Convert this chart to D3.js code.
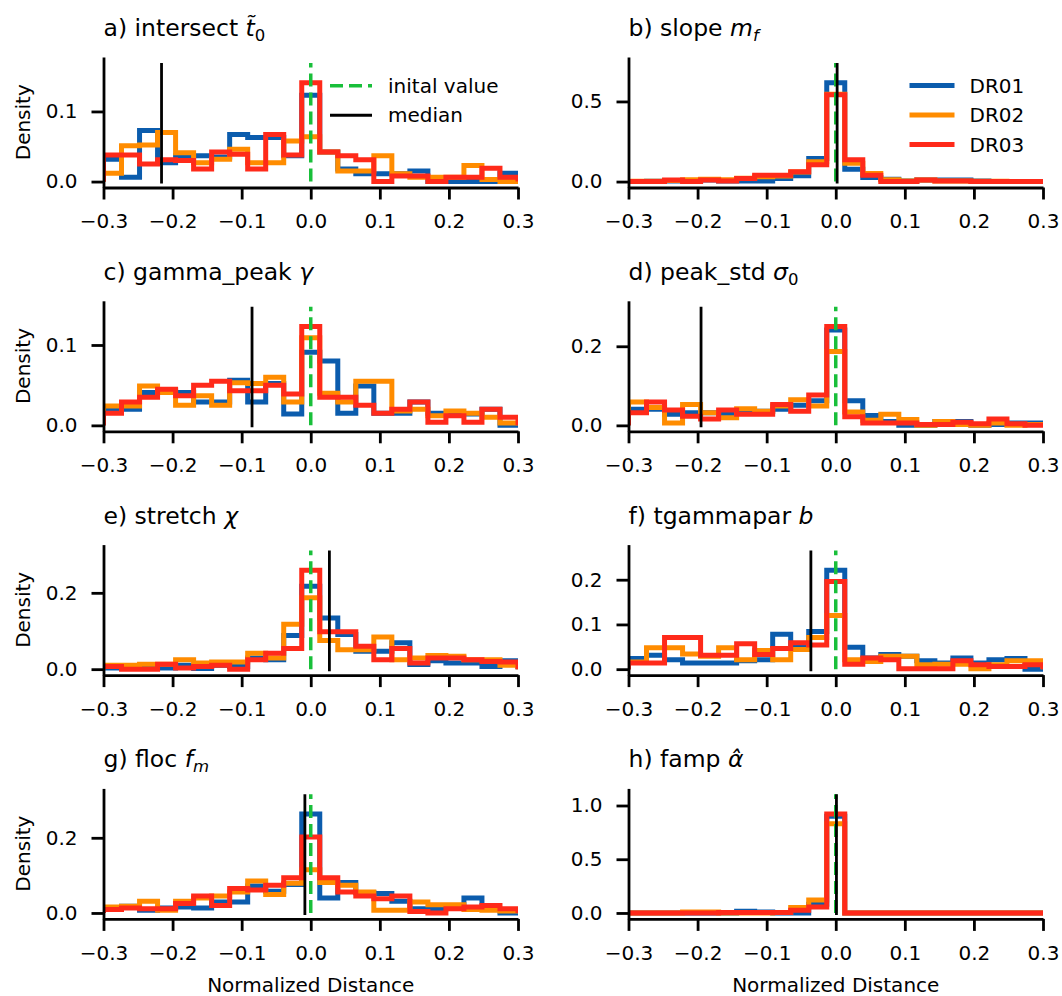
<!DOCTYPE html>
<html>
  <head>
    <meta charset="utf-8" />
    <script src="https://d3js.org/d3.v7.min.js"></script>
    <title>Normalized distance histograms</title>
    <style>
      body { margin: 0; background: #fff; }
      svg { font-family: "DejaVu Sans", sans-serif; }
    </style>
  </head>
  <body>

    <svg id="chart" width="1062" height="996"></svg>

    <script>

      // runs and their colours
      var runs = ["DR01", "DR02", "DR03"];
      var runColors = ["#0b5cad", "#ff8c00", "#ff2a1a"];

      // shared x ticks, histogram range and bin count
      var xTicks = [-0.3, -0.2, -0.1, 0.0, 0.1, 0.2, 0.3];
      var xRange = [-0.3, 0.3];
      var nBins = 23;

      // panel titles: [text, style] pieces
      var titles = [
        [["a) intersect ", ""], ["t\u0303", "it"], ["0", "sub"]],
        [["b) slope ", ""], ["m", "it"], ["f", "subit"]],
        [["c) gamma_peak ", ""], ["\u03b3", "it"]],
        [["d) peak_std ", ""], ["\u03c3", "it"], ["0", "sub"]],
        [["e) stretch ", ""], ["\u03c7", "it"]],
        [["f) tgammapar ", ""], ["b", "it"]],
        [["g) floc ", ""], ["f", "it"], ["m", "subit"]],
        [["h) famp ", ""], ["\u03b1\u0302", "it"]]
      ];

      var medians = [-0.216, 0.002, -0.085, -0.195, 0.027, -0.036, -0.0085, 0.001];

      var yTicks = [
        [0.0, 0.1], [0.0, 0.5], [0.0, 0.1], [0.0, 0.2],
        [0.0, 0.2], [0.0, 0.1, 0.2], [0.0, 0.2], [0.0, 0.5, 1.0]
      ];

      // densities per bin, one row per run (DR01, DR02, DR03)
      var histIntersect = [
        [0.032, 0.006, 0.073, 0.027, 0.037, 0.037, 0.035, 0.067, 0.063, 0.063, 0.037, 0.123, 0.042, 0.018, 0.011, 0.011, 0.011, 0.015, 0.0, 0.0, 0.0, 0.0, 0.012],
        [0.012, 0.051, 0.052, 0.070, 0.041, 0.027, 0.032, 0.046, 0.027, 0.027, 0.058, 0.064, 0.042, 0.015, 0.015, 0.037, 0.011, 0.006, 0.006, 0.006, 0.023, 0.003, 0.0],
        [0.038, 0.038, 0.025, 0.031, 0.030, 0.018, 0.042, 0.039, 0.018, 0.067, 0.038, 0.141, 0.042, 0.037, 0.031, 0.0, 0.008, 0.008, 0.0, 0.006, 0.006, 0.019, 0.006]
      ];
      var histSlope = [
        [0.0, 0.002, 0.004, 0.004, 0.010, 0.004, 0.004, 0.004, 0.019, 0.036, 0.144, 0.617, 0.077, 0.025, 0.015, 0.004, 0.010, 0.010, 0.010, 0.004, 0.0, 0.0, 0.0],
        [0.002, 0.002, 0.006, 0.012, 0.015, 0.012, 0.020, 0.030, 0.035, 0.060, 0.123, 0.545, 0.115, 0.050, 0.012, 0.004, 0.010, 0.004, 0.004, 0.002, 0.002, 0.0, 0.0],
        [0.0, 0.0, 0.010, 0.0, 0.010, 0.004, 0.019, 0.040, 0.040, 0.061, 0.105, 0.542, 0.136, 0.040, 0.0, 0.0, 0.010, 0.004, 0.004, 0.0, 0.0, 0.0, 0.0]
      ];
      var histGammaPeak = [
        [0.020, 0.020, 0.041, 0.043, 0.041, 0.029, 0.029, 0.056, 0.029, 0.052, 0.014, 0.091, 0.080, 0.015, 0.049, 0.015, 0.015, 0.029, 0.015, 0.014, 0.014, 0.020, 0.0],
        [0.024, 0.024, 0.049, 0.041, 0.025, 0.037, 0.025, 0.053, 0.052, 0.060, 0.029, 0.109, 0.040, 0.029, 0.055, 0.055, 0.018, 0.020, 0.012, 0.018, 0.015, 0.010, 0.003],
        [0.015, 0.029, 0.035, 0.045, 0.037, 0.050, 0.055, 0.043, 0.043, 0.050, 0.039, 0.123, 0.035, 0.035, 0.025, 0.015, 0.020, 0.029, 0.004, 0.012, 0.004, 0.020, 0.010]
      ];
      var histPeakStd = [
        [0.041, 0.041, 0.028, 0.032, 0.032, 0.030, 0.036, 0.036, 0.041, 0.051, 0.062, 0.241, 0.062, 0.025, 0.010, 0.0, 0.0, 0.010, 0.010, 0.0, 0.002, 0.006, 0.006],
        [0.059, 0.045, 0.006, 0.053, 0.032, 0.019, 0.042, 0.036, 0.049, 0.065, 0.049, 0.187, 0.034, 0.013, 0.028, 0.015, 0.0, 0.010, 0.002, 0.0, 0.006, 0.0, 0.002],
        [0.032, 0.059, 0.039, 0.023, 0.016, 0.039, 0.028, 0.028, 0.053, 0.036, 0.077, 0.250, 0.022, 0.006, 0.006, 0.006, 0.002, 0.002, 0.008, 0.004, 0.016, 0.004, 0.0]
      ];
      var histStretch = [
        [0.003, 0.003, 0.003, 0.003, 0.010, 0.002, 0.010, 0.007, 0.029, 0.025, 0.088, 0.217, 0.134, 0.091, 0.047, 0.047, 0.069, 0.012, 0.022, 0.016, 0.016, 0.007, 0.022],
        [0.010, 0.010, 0.013, 0.013, 0.025, 0.016, 0.019, 0.019, 0.042, 0.029, 0.118, 0.187, 0.075, 0.051, 0.051, 0.084, 0.025, 0.029, 0.036, 0.034, 0.025, 0.025, 0.010],
        [0.007, 0.0, 0.0, 0.013, 0.003, 0.007, 0.010, 0.0, 0.025, 0.042, 0.054, 0.259, 0.098, 0.098, 0.060, 0.025, 0.054, 0.016, 0.029, 0.029, 0.025, 0.020, 0.019]
      ];
      var histTgammapar = [
        [0.024, 0.031, 0.021, 0.014, 0.014, 0.014, 0.019, 0.021, 0.078, 0.049, 0.084, 0.221, 0.049, 0.025, 0.033, 0.029, 0.019, 0.014, 0.025, 0.014, 0.021, 0.024, 0.0],
        [0.016, 0.048, 0.048, 0.034, 0.029, 0.048, 0.021, 0.042, 0.021, 0.044, 0.071, 0.120, 0.021, 0.017, 0.029, 0.029, 0.010, 0.011, 0.011, 0.001, 0.010, 0.019, 0.019],
        [0.014, 0.014, 0.071, 0.071, 0.031, 0.031, 0.057, 0.033, 0.046, 0.059, 0.054, 0.196, 0.011, 0.025, 0.021, 0.001, 0.001, 0.001, 0.019, 0.010, 0.006, 0.006, 0.010]
      ];
      var histFloc = [
        [0.013, 0.018, 0.007, 0.013, 0.016, 0.013, 0.029, 0.029, 0.072, 0.058, 0.076, 0.263, 0.040, 0.081, 0.054, 0.052, 0.031, 0.011, 0.011, 0.013, 0.040, 0.009, 0.0],
        [0.016, 0.018, 0.031, 0.007, 0.031, 0.040, 0.045, 0.056, 0.085, 0.049, 0.079, 0.115, 0.081, 0.074, 0.056, 0.007, 0.007, 0.029, 0.022, 0.022, 0.009, 0.007, 0.005],
        [0.009, 0.013, 0.011, 0.011, 0.025, 0.045, 0.020, 0.065, 0.061, 0.074, 0.094, 0.202, 0.094, 0.056, 0.045, 0.038, 0.045, 0.004, 0.0, 0.011, 0.016, 0.020, 0.011]
      ];
      var histFamp = [
        [0.0, 0.0, 0.0, 0.0, 0.0, 0.0, 0.015, 0.010, 0.0, 0.0, 0.080, 0.900, 0.0, 0.0, 0.0, 0.0, 0.0, 0.0, 0.0, 0.0, 0.0, 0.0, 0.0],
        [0.0, 0.0, 0.0, 0.010, 0.010, 0.0, 0.0, 0.0, 0.005, 0.050, 0.120, 0.830, 0.0, 0.0, 0.0, 0.0, 0.0, 0.0, 0.0, 0.0, 0.0, 0.0, 0.0],
        [0.0, 0.0, 0.0, 0.0, 0.0, 0.005, 0.005, 0.005, 0.005, 0.025, 0.056, 0.920, 0.0, 0.0, 0.0, 0.0, 0.0, 0.0, 0.0, 0.0, 0.0, 0.0, 0.0]
      ];

      var panels = [histIntersect, histSlope, histGammaPeak, histPeakStd,
                    histStretch, histTgammapar, histFloc, histFamp];

      var svg = d3.select("#chart");

      var colLeft = [103.5, 628.5];
      var axWidth = 414.5;
      var rowTop = [57, 300.8, 544.6, 788.4];
      var axHeight = 130.5;

      var green = "#19bf3a";
      var fontSize = 20;
      var fmt = d3.format(".1f");

      var edges = d3.range(nBins + 1).map(function(i) {
        return xRange[0] + i * (xRange[1] - xRange[0]) / nBins;
      });

      panels.forEach(function(hists, p) {

        var col = p % 2, row = Math.floor(p / 2);
        var left = colLeft[col], top = rowTop[row];
        var right = left + axWidth, bottom = top + axHeight;

        var peak = d3.max(hists, function(h) { return d3.max(h); });
        var lineTop = 1.2 * peak;

        var x = d3.scaleLinear().domain(xRange).range([left, right]);
        var y = d3.scaleLinear()
          .domain([-0.05 * lineTop, 1.05 * lineTop])
          .range([bottom, top]);

        var g = svg.append("g").attr("class", "panel");

        svg.append("clipPath").attr("id", "clip" + p)
          .append("rect")
          .attr("x", left).attr("y", top)
          .attr("width", axWidth).attr("height", axHeight);

        // step histograms
        var line = d3.line()
          .x(function(d) { return x(d[0]); })
          .y(function(d) { return y(d[1]); });

        var plot = g.append("g").attr("clip-path", "url(#clip" + p + ")");

        hists.forEach(function(h, r) {
          var pts = [[edges[0], 0]];
          h.forEach(function(v, i) {
            pts.push([edges[i], v]);
            pts.push([edges[i + 1], v]);
          });
          pts.push([edges[nBins], 0]);
          plot.append("path")
            .attr("d", line(pts))
            .attr("fill", "none")
            .attr("stroke", runColors[r])
            .attr("stroke-width", 5)
            .attr("stroke-linejoin", "miter");
        });

        // initial value and median
        plot.append("line")
          .attr("x1", x(0)).attr("x2", x(0))
          .attr("y1", y(0)).attr("y2", y(lineTop))
          .attr("stroke", green)
          .attr("stroke-width", 3.5)
          .attr("stroke-dasharray", "13,6");

        plot.append("line")
          .attr("x1", x(medians[p])).attr("x2", x(medians[p]))
          .attr("y1", y(0) + 2).attr("y2", y(lineTop))
          .attr("stroke", "#000")
          .attr("stroke-width", 2.8);

        // axes
        var xAxis = g.append("g")
          .attr("transform", "translate(0," + bottom + ")")
          .call(d3.axisBottom(x).tickValues(xTicks).tickFormat(fmt)
            .tickSize(12).tickSizeOuter(0).tickPadding(14.5));

        var yAxis = g.append("g")
          .attr("transform", "translate(" + left + ",0)")
          .call(d3.axisLeft(y).tickValues(yTicks[p]).tickFormat(fmt)
            .tickSize(12).tickSizeOuter(0).tickPadding(14));

        [xAxis, yAxis].forEach(function(a) {
          a.select(".domain").attr("stroke", "#000").attr("stroke-width", 2.8);
          a.selectAll(".tick line").attr("stroke", "#000").attr("stroke-width", 2.8);
          a.selectAll(".tick text")
            .attr("fill", "#000")
            .style("font-family", "DejaVu Sans")
            .style("font-size", fontSize + "px");
        });

        // title
        var title = g.append("text")
          .attr("x", left)
          .attr("y", top - 21)
          .attr("font-size", 23.5)
          .attr("fill", "#000");

        titles[p].forEach(function(piece) {
          var ts = title.append("tspan").text(piece[0]);
          if (piece[1] === "it" || piece[1] === "subit") ts.attr("font-style", "italic");
          if (piece[1] === "sub" || piece[1] === "subit") {
            ts.attr("font-size", 16.5).attr("dy", 5);
          }
        });

        if (col === 0) {
          g.append("text")
            .attr("transform", "translate(30," + (top + axHeight / 2) + ") rotate(-90)")
            .attr("text-anchor", "middle")
            .attr("font-size", fontSize)
            .text("Density");
        }

        if (row === 3) {
          g.append("text")
            .attr("x", left + axWidth / 2)
            .attr("y", bottom + 73.5)
            .attr("text-anchor", "middle")
            .attr("font-size", fontSize)
            .text("Normalized Distance");
        }

        // legends
        if (p === 0) {
          var legA = [
            { label: "inital value", color: green, dash: "13,6", width: 3.5 },
            { label: "median", color: "#000", dash: null, width: 3 }
          ];
          legA.forEach(function(d, i) {
            var ly = top + 28.7 + i * 29.5;
            g.append("line")
              .attr("x1", left + 226.5).attr("x2", left + 268.5)
              .attr("y1", ly).attr("y2", ly)
              .attr("stroke", d.color)
              .attr("stroke-width", d.width)
              .attr("stroke-dasharray", d.dash);
            g.append("text")
              .attr("x", left + 284.5).attr("y", ly)
              .attr("dy", "0.35em")
              .attr("font-size", fontSize)
              .text(d.label);
          });
        }

        if (p === 1) {
          runs.forEach(function(run, i) {
            var ly = top + 28.5 + i * 29.5;
            g.append("line")
              .attr("x1", left + 281).attr("x2", left + 326)
              .attr("y1", ly).attr("y2", ly)
              .attr("stroke", runColors[i])
              .attr("stroke-width", 5);
            g.append("text")
              .attr("x", left + 341).attr("y", ly)
              .attr("dy", "0.35em")
              .attr("font-size", fontSize)
              .text(run);
          });
        }

      });

    </script>

  </body>
</html>
